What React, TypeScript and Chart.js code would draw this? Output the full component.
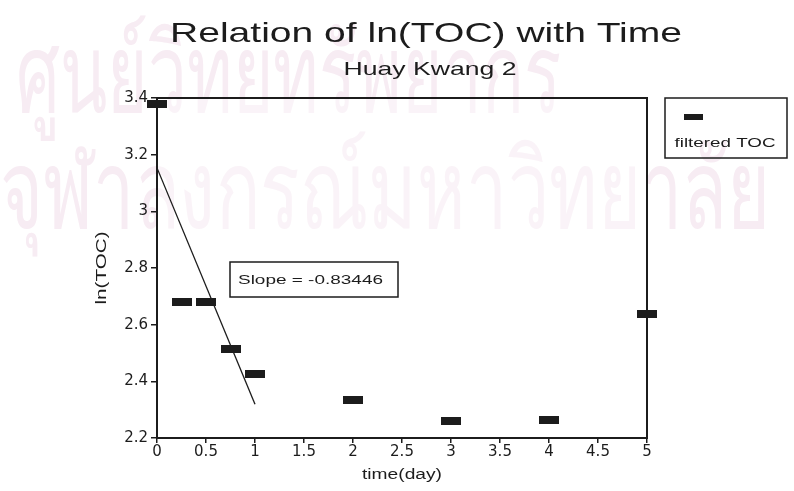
import React, { useEffect, useRef } from "react";
import { Chart, registerables } from "chart.js";

Chart.register(...registerables);

// Sampling times (days) and filtered ln(TOC) values
const timeDays = [0, 0.25, 0.5, 0.75, 1, 2, 3, 4, 5];
const lnToc = [3.38, 2.68, 2.68, 2.513, 2.427, 2.335, 2.259, 2.263, 2.636];

// Linear fit over the first day
const fitSlope = -0.83446;
const fitRange = [0, 1];

const xTicks = [0, 0.5, 1, 1.5, 2, 2.5, 3, 3.5, 4, 4.5, 5];
const yTicks = [2.2, 2.4, 2.6, 2.8, 3, 3.2, 3.4];

const titleText = "Relation of ln(TOC) with Time";
const subtitleText = "Huay Kwang 2";
const seriesLabel = "filtered TOC";
const xTitle = "time(day)";
const yTitle = "ln(TOC)";
const watermarkLines = ["ศูนย์วิทยทรัพยากร", "จุฬาลงกรณ์มหาวิทยาลัย"];

const INK = "#1c1c1c";
const FONT = "'Liberation Sans', Arial, sans-serif";
const WATERMARK = "#f7ecf3";

function fitIntercept(): number {
  const xs: number[] = [];
  const ys: number[] = [];
  timeDays.forEach((t, i) => {
    if (t >= fitRange[0] && t <= fitRange[1]) {
      xs.push(t);
      ys.push(lnToc[i]);
    }
  });
  const mx = xs.reduce((a, b) => a + b, 0) / xs.length;
  const my = ys.reduce((a, b) => a + b, 0) / ys.length;
  return my - fitSlope * mx;
}

function barMarker(w: number, h: number): HTMLCanvasElement {
  const c = document.createElement("canvas");
  c.width = w;
  c.height = h;
  const g = c.getContext("2d")!;
  g.fillStyle = INK;
  g.fillRect(0, 0, w, h);
  return c;
}

// Draws text squeezed/stretched horizontally to a given width
function wideText(
  ctx: CanvasRenderingContext2D,
  text: string,
  x: number,
  y: number,
  font: string,
  width: number,
  align: CanvasTextAlign,
  color = INK
) {
  ctx.save();
  ctx.font = font;
  ctx.fillStyle = color;
  const m = ctx.measureText(text).width;
  ctx.translate(x, y);
  ctx.scale(width / m, 1);
  ctx.textAlign = align;
  ctx.textBaseline = "alphabetic";
  ctx.fillText(text, 0, 0);
  ctx.restore();
}

const decorPlugin = {
  id: "decor",
  beforeDraw(chart: any) {
    const ctx = chart.ctx as CanvasRenderingContext2D;
    const a = chart.chartArea;
    ctx.save();
    ctx.fillStyle = "#ffffff";
    ctx.fillRect(0, 0, chart.width, chart.height);
    ctx.restore();
    wideText(ctx, watermarkLines[0], 16, 112, "110px 'Noto Sans', sans-serif", 545, "left", WATERMARK);
    wideText(ctx, watermarkLines[1], 0, 228, "110px 'Noto Sans', sans-serif", 770, "left", WATERMARK);
    // plot panel washes the watermark out a little
    ctx.save();
    ctx.fillStyle = "rgba(255,255,255,0.4)";
    ctx.fillRect(a.left, a.top, a.right - a.left, a.bottom - a.top);
    ctx.restore();
  },
  beforeDatasetsDraw(chart: any) {
    const ctx = chart.ctx as CanvasRenderingContext2D;
    const a = chart.chartArea;
    ctx.save();
    ctx.strokeStyle = INK;
    ctx.lineWidth = 2;
    ctx.strokeRect(a.left, a.top, a.right - a.left, a.bottom - a.top);
    ctx.restore();
  },
  afterDraw(chart: any) {
    const ctx = chart.ctx as CanvasRenderingContext2D;
    const a = chart.chartArea;
    const cx = (a.left + a.right) / 2;

    wideText(ctx, titleText, cx + 24, 42, `28px ${FONT}`, 512, "center");
    wideText(ctx, subtitleText, cx + 28, 75, `19px ${FONT}`, 173, "center");

    wideText(ctx, xTitle, cx, 479, `14px ${FONT}`, 80, "center");
    ctx.save();
    ctx.translate(106, (a.top + a.bottom) / 2);
    ctx.rotate(-Math.PI / 2);
    wideText(ctx, yTitle, 0, 0, `14px ${FONT}`, 73, "center");
    ctx.restore();

    // legend
    ctx.save();
    ctx.strokeStyle = INK;
    ctx.lineWidth = 1.5;
    ctx.strokeRect(665, 98, 122, 60);
    ctx.fillStyle = INK;
    ctx.fillRect(684, 114, 19, 6);
    ctx.restore();
    wideText(ctx, chart.data.datasets[0].label, 725, 147, `13px ${FONT}`, 101, "center");

    // slope annotation
    ctx.save();
    ctx.strokeStyle = INK;
    ctx.lineWidth = 1.5;
    ctx.strokeRect(230, 262, 168, 35);
    ctx.restore();
    wideText(ctx, `Slope = ${fitSlope}`, 238, 284, `13px ${FONT}`, 145, "left");
  },
};

export default function App() {
  const ref = useRef<HTMLCanvasElement | null>(null);

  useEffect(() => {
    if (!ref.current) return;
    const b = fitIntercept();
    const marker = barMarker(20, 8);
    const tickFont = { family: "'DejaVu Sans', sans-serif", size: 15 };
    const fmt = (v: any) => String(+Number(v).toFixed(2));

    const chart = new Chart(ref.current, {
      type: "scatter",
      data: {
        datasets: [
          {
            label: seriesLabel,
            data: timeDays.map((t, i) => ({ x: t, y: lnToc[i] })),
            pointStyle: marker as any,
            pointRadius: 10,
            showLine: false,
            clip: false as any,
          },
          {
            label: "fit",
            type: "line",
            data: fitRange.map((t) => ({ x: t, y: b + fitSlope * t })),
            borderColor: INK,
            borderWidth: 1.3,
            pointRadius: 0,
            fill: false,
          } as any,
        ],
      },
      options: {
        animation: false,
        responsive: false,
        layout: { padding: { left: 0, top: 98, right: 147, bottom: 0 } },
        plugins: { legend: { display: false }, tooltip: { enabled: false } },
        scales: {
          x: {
            type: "linear",
            min: 0,
            max: 5,
            afterBuildTicks: (s: any) => {
              s.ticks = xTicks.map((v) => ({ value: v }));
            },
            afterFit: (s: any) => {
              s.height = 53;
            },
            grid: { drawOnChartArea: false, tickLength: 5, color: INK, lineWidth: 1.5 },
            border: { color: INK, width: 2 },
            ticks: { color: INK, font: tickFont, padding: 0, maxRotation: 0, autoSkip: false, callback: fmt },
          },
          y: {
            type: "linear",
            min: 2.2,
            max: 3.4,
            afterBuildTicks: (s: any) => {
              s.ticks = yTicks.map((v) => ({ value: v }));
            },
            afterFit: (s: any) => {
              s.width = 157;
            },
            grid: { drawOnChartArea: false, tickLength: 6, color: INK, lineWidth: 1.5 },
            border: { color: INK, width: 2 },
            ticks: { color: INK, font: tickFont, padding: 3, autoSkip: false, callback: fmt },
          },
        },
      },
      plugins: [decorPlugin],
    });
    return () => chart.destroy();
  }, []);

  return (
    <div style={{ position: "fixed", left: 0, top: 0, width: 794, height: 491 }}>
      <canvas ref={ref} width={794} height={491} />
    </div>
  );
}
